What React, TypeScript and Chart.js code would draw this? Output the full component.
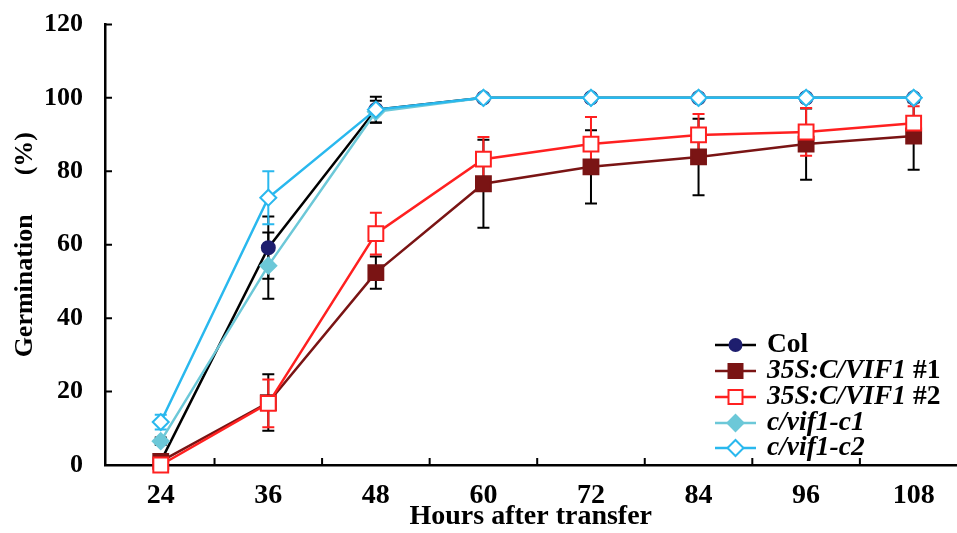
import React, { useEffect, useRef } from "react";
import { Chart, registerables } from "chart.js";

Chart.register(...registerables);

const hours = [24, 36, 48, 60, 72, 84, 96, 108];
const xTickLabels = [24, 36, 48, 60, 72, 84, 96, 108];
const xMinorTicks = [30, 42, 54, 66, 78, 90, 102, 114];
const yTicks = [0, 20, 40, 60, 80, 100, 120];

const colVals = [1, 59.2, 96.8, 100, 100, 100, 100, 100];
const colErr = [0.5, 8.5, 3.5, 0, 0, 0, 0, 0];
const oe1Vals = [1, 17, 52.4, 76.6, 81.2, 83.9, 87.4, 89.6];
const oe1Err = [0.5, 7.7, 4.4, 12, 10, 10.4, 9.7, 9.2];
const oe2Vals = [0, 16.8, 63, 83.3, 87.4, 89.9, 90.7, 93.1];
const oe2Err = [0.5, 6.5, 5.7, 6, 7.4, 5.7, 6.5, 4.6];
const c1Vals = [6.5, 54.3, 96.2, 100, 100, 100, 100, 100];
const c1Err = [1, 9, 3, 0, 0, 0, 0, 0];
const c2Vals = [11.7, 72.8, 96.8, 100, 100, 100, 100, 100];
const c2Err = [2, 7.2, 1, 0, 0, 0, 0, 0];

const FONT = '"Liberation Serif"';

type Series = {
  name: string;
  italic: string;
  plain: string;
  values: number[];
  errors: number[];
  line: string;
  errColor: string;
  style: string;
  fill: string;
  stroke: string;
  radius: number;
  order: number;
};

const series: Series[] = [
  { name: "Col", italic: "", plain: "Col", values: colVals, errors: colErr, line: "#000000", errColor: "#000000", style: "circle", fill: "#1e1e6e", stroke: "#1e1e6e", radius: 6.5, order: 4 },
  { name: "35S:C/VIF1 #1", italic: "35S:C/VIF1", plain: " #1", values: oe1Vals, errors: oe1Err, line: "#7a1414", errColor: "#000000", style: "rect", fill: "#7a1414", stroke: "#7a1414", radius: 10.5, order: 3 },
  { name: "35S:C/VIF1 #2", italic: "35S:C/VIF1", plain: " #2", values: oe2Vals, errors: oe2Err, line: "#ff2020", errColor: "#ff2020", style: "rect", fill: "#ffffff", stroke: "#ff2020", radius: 10.5, order: 2 },
  { name: "c/vif1-c1", italic: "c/vif1-c1", plain: "", values: c1Vals, errors: c1Err, line: "#6cc8d8", errColor: "#000000", style: "rectRot", fill: "#6cc8d8", stroke: "#6cc8d8", radius: 8, order: 1 },
  { name: "c/vif1-c2", italic: "c/vif1-c2", plain: "", values: c2Vals, errors: c2Err, line: "#29b8ee", errColor: "#29b8ee", style: "rectRot", fill: "#ffffff", stroke: "#29b8ee", radius: 8, order: 0 },
];

const errorBarPlugin = {
  id: "errorBars",
  beforeDatasetsDraw(chart: any) {
    const ctx = chart.ctx;
    const xs = chart.scales.x;
    const ys = chart.scales.y;
    ctx.save();
    series.forEach((s) => {
      ctx.strokeStyle = s.errColor;
      ctx.lineWidth = 2;
      hours.forEach((h, i) => {
        const e = s.errors[i];
        if (!e) return;
        const x = xs.getPixelForValue(h);
        const yTop = ys.getPixelForValue(s.values[i] + e);
        const yBot = ys.getPixelForValue(s.values[i] - e);
        ctx.beginPath();
        ctx.moveTo(x, yTop);
        ctx.lineTo(x, yBot);
        ctx.moveTo(x - 6, yTop);
        ctx.lineTo(x + 6, yTop);
        ctx.moveTo(x - 6, yBot);
        ctx.lineTo(x + 6, yBot);
        ctx.stroke();
      });
    });
    ctx.restore();
  },
};

const axisTickPlugin = {
  id: "inwardTicks",
  afterDraw(chart: any) {
    const ctx = chart.ctx;
    const { left, bottom, right } = chart.chartArea;
    const xs = chart.scales.x;
    const ys = chart.scales.y;
    ctx.save();
    ctx.strokeStyle = "#000";
    ctx.lineWidth = 2;
    ctx.beginPath();
    yTicks.forEach((v) => {
      const y = ys.getPixelForValue(v);
      ctx.moveTo(left, y);
      ctx.lineTo(left + 7, y);
    });
    xMinorTicks.forEach((v) => {
      const x = xs.getPixelForValue(v);
      if (x > right) return;
      ctx.moveTo(x, bottom);
      ctx.lineTo(x, bottom - 7);
    });
    ctx.stroke();
    ctx.restore();
  },
};

const legendPlugin = {
  id: "customLegend",
  afterDraw(chart: any) {
    const ctx = chart.ctx;
    const x0 = 715;
    const x1 = 756;
    const tx = 767;
    const ys = [345, 371, 397, 423, 448];
    ctx.save();
    series.forEach((s, i) => {
      const y = ys[i];
      ctx.strokeStyle = s.line;
      ctx.lineWidth = 2.5;
      ctx.beginPath();
      ctx.moveTo(x0, y);
      ctx.lineTo(x1, y);
      ctx.stroke();
      const cx = (x0 + x1) / 2;
      ctx.fillStyle = s.fill;
      ctx.strokeStyle = s.stroke;
      ctx.lineWidth = 2;
      ctx.beginPath();
      if (s.style === "circle") {
        ctx.arc(cx, y, 6, 0, Math.PI * 2);
      } else if (s.style === "rect") {
        ctx.rect(cx - 7, y - 7, 14, 14);
      } else {
        ctx.moveTo(cx - 8, y);
        ctx.lineTo(cx, y - 8);
        ctx.lineTo(cx + 8, y);
        ctx.lineTo(cx, y + 8);
        ctx.closePath();
      }
      ctx.fill();
      ctx.stroke();
      ctx.fillStyle = "#000";
      ctx.textBaseline = "middle";
      ctx.textAlign = "left";
      let x = tx;
      if (s.italic) {
        ctx.font = `italic bold 27.5px ${FONT}`;
        ctx.fillText(s.italic, x, y);
        x += ctx.measureText(s.italic).width;
      }
      if (s.plain) {
        ctx.font = `bold 27.5px ${FONT}`;
        ctx.fillText(s.plain, x, y);
      }
    });
    ctx.restore();
  },
};

export default function App() {
  const ref = useRef<HTMLCanvasElement | null>(null);
  useEffect(() => {
    if (!ref.current) return;
    const chart = new Chart(ref.current, {
      type: "line",
      data: {
        datasets: series.map((s) => ({
          label: s.name,
          data: hours.map((h, i) => ({ x: h, y: s.values[i] })),
          borderColor: s.line,
          borderWidth: 2.5,
          pointStyle: s.style as any,
          pointRadius: s.radius,
          pointBackgroundColor: s.fill,
          pointBorderColor: s.stroke,
          pointBorderWidth: 2,
          tension: 0,
          order: s.order,
          clip: false as any,
        })),
      },
      options: {
        animation: false,
        responsive: false,
        devicePixelRatio: 1,
        font: { family: FONT },
        layout: { padding: { top: 23, right: 0, left: 0, bottom: 0 } },
        plugins: { legend: { display: false }, tooltip: { enabled: false } },
        scales: {
          x: {
            type: "linear",
            min: 17.78,
            max: 112.78,
            afterBuildTicks: (scale: any) => {
              scale.ticks = xTickLabels.map((v) => ({ value: v }));
            },
            afterFit: (scale: any) => {
              scale.height = 68;
            },
            grid: { display: false },
            border: { display: true, color: "#000", width: 2.5 },
            ticks: {
              color: "#000",
              padding: 7,
              maxRotation: 0,
              autoSkip: false,
              font: { family: FONT, size: 28, weight: "bold", lineHeight: 1.1 },
              callback: (v: any) => String(v),
            },
            title: {
              display: true,
              text: "Hours after transfer",
              color: "#000",
              padding: { top: 0, bottom: -1 },
              font: { family: FONT, size: 28, weight: "bold" },
            },
          },
          y: {
            min: 0,
            max: 120,
            afterBuildTicks: (scale: any) => {
              scale.ticks = yTicks.map((v) => ({ value: v }));
            },
            afterFit: (scale: any) => {
              scale.width = 105;
            },
            grid: { display: false },
            border: { display: true, color: "#000", width: 2.5 },
            ticks: {
              color: "#000",
              padding: 14,
              font: { family: FONT, size: 26, weight: "bold", lineHeight: 0.8 },
            },
            title: {
              display: true,
              text: "Germination      (%)",
              color: "#000",
              padding: { top: 10, bottom: 0 },
              font: { family: FONT, size: 26, weight: "bold" },
            },
          },
        },
      },
      plugins: [errorBarPlugin, axisTickPlugin, legendPlugin],
    });
    return () => chart.destroy();
  }, []);
  return (
    <div style={{ position: "fixed", left: 0, top: 0, width: 957, height: 533, overflow: "hidden", background: "#fff" }}>
      <canvas ref={ref} width={969} height={533} style={{ display: "block" }} />
    </div>
  );
}
